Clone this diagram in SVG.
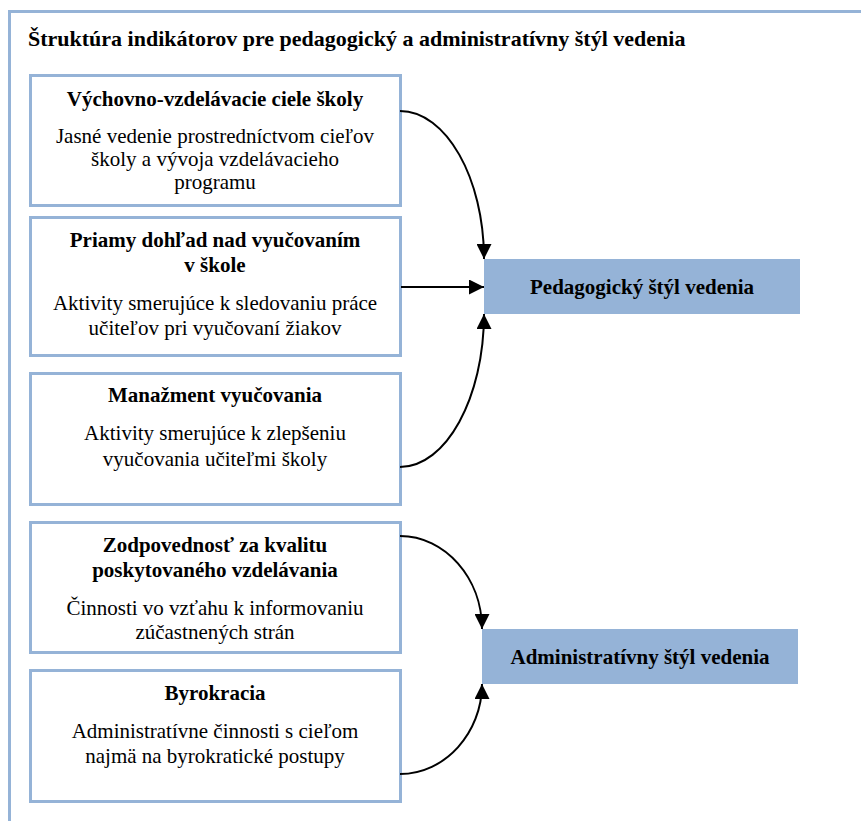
<svg xmlns="http://www.w3.org/2000/svg" width="861" height="821" viewBox="0 0 861 821">
<style>
.box{fill:#ffffff;stroke:#95b3d7;stroke-width:3}
.tgt{fill:#95b3d7;stroke:none}
.c{fill:none;stroke:#000;stroke-width:2}
.t{font-family:"Liberation Serif","Times New Roman",serif;font-size:21px;fill:#000;text-anchor:middle}
.b{font-weight:bold}
.h{font-family:"Liberation Serif","Times New Roman",serif;font-size:22px;font-weight:bold;fill:#000}
</style>
<defs>
<marker id="ah" markerUnits="userSpaceOnUse" markerWidth="15" markerHeight="15" refX="15" refY="7.5" orient="auto">
<path d="M0,0 L15,7.5 L0,15 z" fill="#000"/>
</marker>
</defs>
<rect width="861" height="821" fill="#fff"/>
<path d="M9.5,821 L9.5,11.5 L861,11.5" fill="none" stroke="#95b3d7" stroke-width="3"/>
<text class="h" x="28" y="46">Štruktúra indikátorov pre pedagogický a administratívny štýl vedenia</text>

<g id="n1">
<rect class="box" x="30.5" y="75.5" width="370" height="130"/>
<text class="t b" x="215" y="106">Výchovno-vzdelávacie ciele školy</text>
<text class="t" x="215" y="143">Jasné vedenie prostredníctvom cieľov</text>
<text class="t" x="215" y="166">školy a vývoja vzdelávacieho</text>
<text class="t" x="215" y="189">programu</text>
</g>
<g id="n2">
<rect class="box" x="30.5" y="217.5" width="370" height="138"/>
<text class="t b" x="215" y="247">Priamy dohľad nad vyučovaním</text>
<text class="t b" x="215" y="272">v škole</text>
<text class="t" x="215" y="310">Aktivity smerujúce k sledovaniu práce</text>
<text class="t" x="215" y="335">učiteľov pri vyučovaní žiakov</text>
</g>
<g id="n3">
<rect class="box" x="30.5" y="373.5" width="370" height="131"/>
<text class="t b" x="215" y="402">Manažment vyučovania</text>
<text class="t" x="215" y="440">Aktivity smerujúce k zlepšeniu</text>
<text class="t" x="215" y="466">vyučovania učiteľmi školy</text>
</g>
<g id="n4">
<rect class="box" x="30.5" y="522.5" width="370" height="130"/>
<text class="t b" x="215" y="552">Zodpovednosť za kvalitu</text>
<text class="t b" x="215" y="577">poskytovaného vzdelávania</text>
<text class="t" x="215" y="615">Činnosti vo vzťahu k informovaniu</text>
<text class="t" x="215" y="639">zúčastnených strán</text>
</g>
<g id="n5">
<rect class="box" x="30.5" y="670.5" width="370" height="131"/>
<text class="t b" x="215" y="700">Byrokracia</text>
<text class="t" x="215" y="738">Administratívne činnosti s cieľom</text>
<text class="t" x="215" y="763">najmä na byrokratické postupy</text>
</g>
<g id="p">
<rect class="tgt" x="484" y="259" width="316" height="55"/>
<text class="t b" x="642" y="294">Pedagogický štýl vedenia</text>
</g>
<g id="a">
<rect class="tgt" x="482" y="629" width="316" height="55"/>
<text class="t b" x="640" y="664">Administratívny štýl vedenia</text>
</g>
<g id="connectors">
<path class="c" marker-end="url(#ah)" d="M400,111 C446,111 484,178 484,259"/>
<path class="c" marker-end="url(#ah)" d="M401,287 L484,287"/>
<path class="c" marker-end="url(#ah)" d="M400,467 C446,467 484,398 484,314"/>
<path class="c" marker-end="url(#ah)" d="M400,536 C445,536 482,578 482,629"/>
<path class="c" marker-end="url(#ah)" d="M400,774 C445,774 482,733 482,684"/>
</g>
</svg>
